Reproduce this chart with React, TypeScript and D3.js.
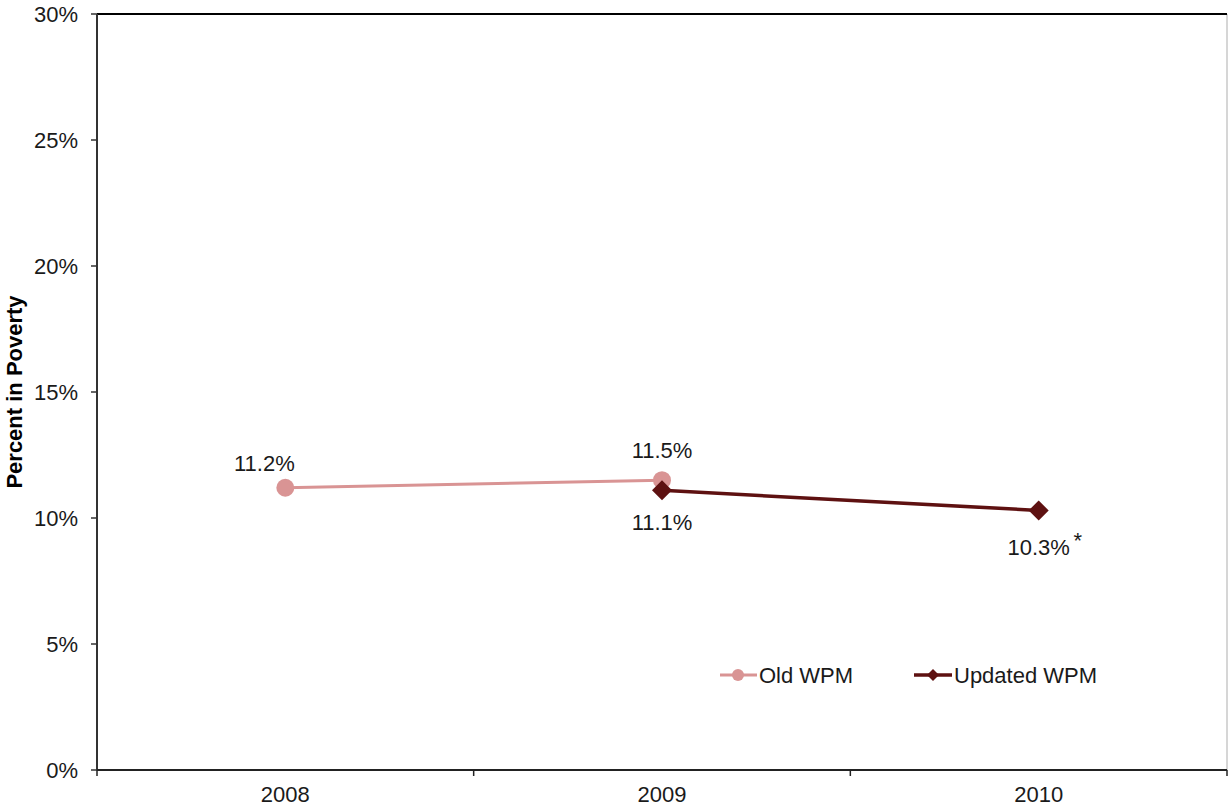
import React from "react";
import * as d3 from "d3";

const years = ["2008", "2009", "2010"];
const oldWpmYears = ["2008", "2009"];
const oldWpmValues = [11.2, 11.5];
const updatedWpmYears = ["2009", "2010"];
const updatedWpmValues = [11.1, 10.3];
const yTicks = [0, 5, 10, 15, 20, 25, 30];

const W = 1228;
const H = 808;
const left = 97;
const right = 1227;
const top = 14;
const bottom = 770;
const font = "'Liberation Sans', Arial, sans-serif";
const fs = 22;
const oldColor = "#D99494";
const newColor = "#5E1111";

export default function App() {
  const x = d3.scaleBand<string>().domain(years).range([left, right]).padding(0);
  const y = d3.scaleLinear().domain([0, 30]).range([bottom, top]);
  const cx = (d: string) => (x(d) as number) + x.bandwidth() / 2;

  const line = d3
    .line<[string, number]>()
    .x((d) => cx(d[0]))
    .y((d) => y(d[1]));

  const oldPts: [string, number][] = oldWpmYears.map((yr, i) => [yr, oldWpmValues[i]]);
  const newPts: [string, number][] = updatedWpmYears.map((yr, i) => [yr, updatedWpmValues[i]]);

  const diamond = (px: number, py: number, r: number) =>
    `M${px},${py - r}L${px + r},${py}L${px},${py + r}L${px - r},${py}Z`;

  const xTickPos = [...years.map((d) => x(d) as number), right];

  return (
    <svg
      width={W}
      height={H}
      style={{ position: "absolute", left: 0, top: 0, background: "#fff" }}
      fontFamily={font}
    >
      {/* right frame edge */}
      <line x1={right} x2={right} y1={top} y2={bottom} stroke="#c8c8c8" strokeWidth={1.5} />
      {/* top frame edge */}
      <line x1={left} x2={right} y1={top} y2={top} stroke="#000" strokeWidth={2} />
      {/* y axis */}
      <line x1={left} x2={left} y1={top} y2={bottom} stroke="#333" strokeWidth={2} />
      {yTicks.map((t) => (
        <g key={t}>
          <line x1={left - 6} x2={left} y1={y(t)} y2={y(t)} stroke="#333" strokeWidth={1.5} />
          <text x={78} y={y(t)} dy="0.36em" textAnchor="end" fontSize={fs} fill="#1a1a1a">
            {t}%
          </text>
        </g>
      ))}
      {/* x axis */}
      <line x1={left} x2={right} y1={bottom} y2={bottom} stroke="#222" strokeWidth={2} />
      {xTickPos.map((p, i) => (
        <line key={i} x1={p} x2={p} y1={bottom} y2={bottom + 6} stroke="#222" strokeWidth={1.5} />
      ))}
      {years.map((yr) => (
        <text key={yr} x={cx(yr)} y={802} textAnchor="middle" fontSize={fs} fill="#1a1a1a">
          {yr}
        </text>
      ))}
      <text
        transform={`translate(22,${(top + bottom) / 2}) rotate(-90)`}
        textAnchor="middle"
        fontSize={fs}
        fontWeight="bold"
        fill="#000"
      >
        Percent in Poverty
      </text>

      {/* Old WPM series */}
      <path d={line(oldPts) || ""} fill="none" stroke={oldColor} strokeWidth={3} />
      {oldPts.map((d) => (
        <circle key={d[0]} cx={cx(d[0])} cy={y(d[1])} r={9} fill={oldColor} />
      ))}

      {/* Updated WPM series */}
      <path d={line(newPts) || ""} fill="none" stroke={newColor} strokeWidth={3.5} />
      {newPts.map((d) => (
        <path key={d[0]} d={diamond(cx(d[0]), y(d[1]), 10)} fill={newColor} />
      ))}

      {/* value labels */}
      <text x={cx("2008") - 21} y={y(oldWpmValues[0]) - 17} textAnchor="middle" fontSize={fs} fill="#1a1a1a">
        {oldWpmValues[0].toFixed(1)}%
      </text>
      <text x={cx("2009")} y={y(oldWpmValues[1]) - 22} textAnchor="middle" fontSize={fs} fill="#1a1a1a">
        {oldWpmValues[1].toFixed(1)}%
      </text>
      <text x={cx("2009")} y={y(updatedWpmValues[0]) + 40} textAnchor="middle" fontSize={fs} fill="#1a1a1a">
        {updatedWpmValues[0].toFixed(1)}%
      </text>
      <text x={cx("2010")} y={y(updatedWpmValues[1]) + 45} textAnchor="middle" fontSize={fs} fill="#1a1a1a">
        {updatedWpmValues[1].toFixed(1)}%
      </text>
      <text x={cx("2010") + 39} y={y(updatedWpmValues[1]) + 38} textAnchor="middle" fontSize={fs} fill="#1a1a1a">
        *
      </text>

      {/* legend */}
      <g>
        <line x1={720} x2={757} y1={675} y2={675} stroke={oldColor} strokeWidth={3} />
        <circle cx={738} cy={675} r={6} fill={oldColor} />
        <text x={759} y={675} dy="0.36em" fontSize={fs} fill="#1a1a1a">
          Old WPM
        </text>
        <line x1={914} x2={952} y1={675} y2={675} stroke={newColor} strokeWidth={3.5} />
        <path d={diamond(933, 675, 6)} fill={newColor} />
        <text x={954} y={675} dy="0.36em" fontSize={fs} fill="#1a1a1a">
          Updated WPM
        </text>
      </g>
    </svg>
  );
}
